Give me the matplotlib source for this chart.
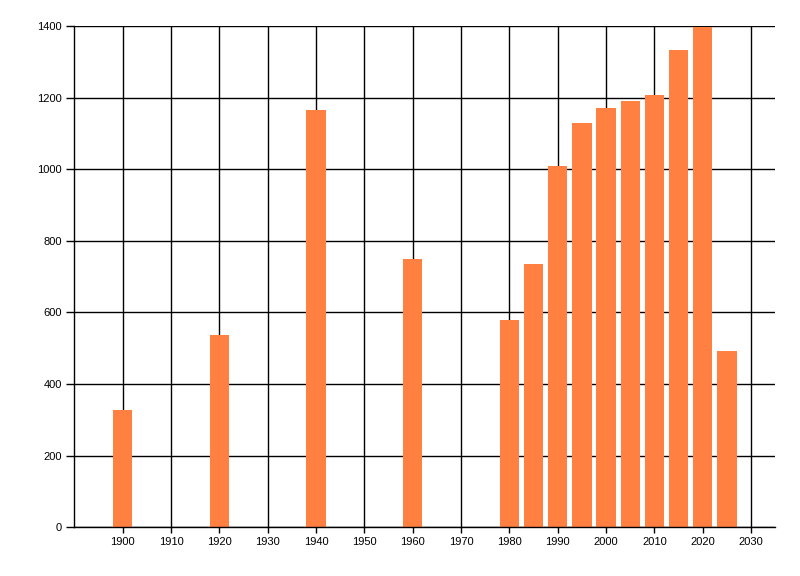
import matplotlib
matplotlib.use("Agg")
import matplotlib.pyplot as plt

# years and values
years = [1900, 1920, 1940, 1960, 1980, 1985, 1990, 1995, 2000, 2005, 2010, 2015, 2020, 2025]
values = [328, 538, 1164, 750, 580, 736, 1008, 1128, 1170, 1190, 1207, 1333, 1397, 493]
x_ticks = list(range(1900, 2031, 10))
y_ticks = list(range(0, 1401, 200))

plt.rcParams['font.family'] = ['Liberation Sans', 'DejaVu Sans']

fig = plt.figure(figsize=(8, 5.76), dpi=100)
ax = fig.add_axes([0.093, 0.0845, 0.876, 0.8705])

ax.bar(years, values, width=4, color='#FF8040', zorder=3)

ax.set_xlim(1890, 2035)
ax.set_ylim(0, 1400)
ax.set_xticks(x_ticks)
ax.set_yticks(y_ticks)
ax.grid(True, color='black', linewidth=1, zorder=0)

for side in ['top', 'right']:
    ax.spines[side].set_visible(False)
for side in ['left', 'bottom']:
    ax.spines[side].set_linewidth(1)
    ax.spines[side].set_zorder(4)

ax.tick_params(axis='y', length=6, width=1, labelsize=8, pad=3)
ax.tick_params(axis='x', length=4, width=1, labelsize=8, pad=3)

fig.savefig('out.png', dpi=100)
